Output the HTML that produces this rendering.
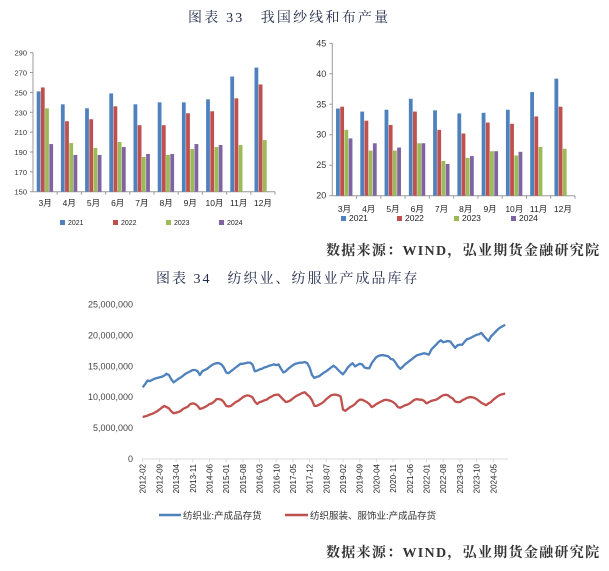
<!DOCTYPE html>
<html><head><meta charset="utf-8"><style>
body{margin:0;width:609px;height:571px;background:#fff;overflow:hidden;position:relative;font-family:"Liberation Sans","Noto Sans CJK SC",sans-serif}
.t{position:absolute;font-family:"Liberation Serif","Noto Serif CJK SC",serif;color:#1f2a4a;white-space:nowrap}
svg{position:absolute;left:0;top:0}
</style></head><body>
<div class="t" style="left:188px;top:7px;font-size:14px;letter-spacing:2.2px">图表 33　我国纱线和布产量</div>
<div class="t" style="left:326px;top:240px;font-size:14px;font-weight:bold;color:#333;letter-spacing:1.3px">数据来源：WIND，弘业期货金融研究院</div>
<div class="t" style="left:156px;top:268px;font-size:14px;letter-spacing:2px">图表 34　纺织业、纺服业产成品库存</div>
<div class="t" style="left:326px;top:542px;font-size:14px;font-weight:bold;color:#333;letter-spacing:1.3px">数据来源：WIND，弘业期货金融研究院</div>
<svg id="s" width="609" height="571"></svg>
<script>
const months=["3月","4月","5月","6月","7月","8月","9月","10月","11月","12月"];
const years=["2021","2022","2023","2024"];
const yarn2021=[251,238,234,249,238,240,240,243,266,275];
const yarn2022=[255,221,223,236,217,217,229,231,244,258];
const yarn2023=[234,199,194,200,185,187,193,195,197,202];
const yarn2024=[198,187,187,195,188,188,198,197,null,null];
const yarnTicks=[150,170,190,210,230,250,270,290];
const cloth2021=[34.3,33.8,34.1,35.9,34.0,33.5,33.6,34.1,37.0,39.2];
const cloth2022=[34.6,32.3,31.6,33.8,30.8,30.2,32.0,31.8,33.0,34.6];
const cloth2023=[30.8,27.4,27.4,28.6,25.7,26.2,27.3,26.6,28.0,27.7];
const cloth2024=[29.4,28.6,27.9,28.6,25.2,26.5,27.3,27.2,null,null];
const clothTicks=[20,25,30,35,40,45];
const invStart=[2012,2];
const textileInv=[11.6,12.1,12.7,12.6,12.8,13.0,13.1,13.2,13.3,13.5,13.8,13.6,12.9,12.4,12.7,13.0,13.2,13.5,13.8,14.0,14.2,14.4,14.4,14.2,13.6,14.2,14.4,14.6,14.9,15.2,15.4,15.5,15.5,15.3,14.8,14.0,13.9,14.2,14.5,14.8,15.1,15.4,15.4,15.5,15.6,15.6,15.3,14.2,14.3,14.5,14.6,14.8,14.9,15.1,15.2,15.3,15.2,15.3,14.6,14.0,14.2,14.6,14.9,15.2,15.4,15.5,15.6,15.6,15.7,15.5,14.8,13.6,13.1,13.3,13.4,13.7,14.0,14.2,14.5,14.8,15.1,14.8,14.4,14.0,13.7,14.2,14.8,15.2,15.5,15.0,15.2,15.4,15.3,14.8,14.7,14.7,15.5,16.0,16.5,16.7,16.8,16.8,16.7,16.6,16.2,16.1,15.6,15.0,14.6,14.9,15.3,15.6,15.9,16.2,16.5,16.8,16.9,17.0,17.1,17.0,16.9,17.7,18.1,18.5,18.9,19.2,18.9,19.0,19.1,19.0,18.5,18.0,18.4,18.5,18.5,19.0,19.4,19.5,19.7,19.9,20.1,20.2,20.4,19.9,19.5,19.1,19.8,20.2,20.6,21.0,21.3,21.5,21.7];
const apparelInv=[6.8,6.9,7.0,7.2,7.3,7.5,7.7,8.0,8.3,8.6,8.4,8.2,7.7,7.4,7.5,7.6,7.8,8.1,8.3,8.5,8.9,9.0,8.9,8.6,8.1,8.2,8.4,8.6,8.9,9.0,9.3,9.7,9.7,9.6,9.2,8.6,8.5,8.6,8.9,9.2,9.4,9.7,10.0,10.2,10.3,10.2,10.0,9.3,8.9,9.2,9.3,9.5,9.6,9.9,10.1,10.3,10.4,10.4,10.0,9.6,9.2,9.3,9.5,9.8,10.1,10.3,10.5,10.7,10.8,10.4,10.1,9.5,8.6,8.6,8.8,9.0,9.3,9.7,10.0,10.3,10.4,10.4,10.3,10.1,8.0,7.8,8.1,8.4,8.6,8.9,9.3,9.6,9.6,9.4,9.2,8.9,8.4,8.6,8.9,9.1,9.3,9.5,9.6,9.5,9.4,9.2,8.9,8.4,8.3,8.5,8.7,8.8,9.0,9.3,9.6,9.7,9.6,9.6,9.4,9.0,9.2,9.4,9.5,9.6,9.8,10.1,10.3,10.4,10.3,10.0,9.8,9.3,9.2,9.2,9.5,9.7,9.9,10.0,10.0,9.9,9.7,9.4,9.1,8.9,8.7,9.0,9.2,9.6,9.9,10.2,10.4,10.5,10.6];
const invTicks=[0,5,10,15,20,25];
const invTickLabels=["0","5,000,000","10,000,000","15,000,000","20,000,000","25,000,000"];

const NS="http://www.w3.org/2000/svg",S=document.getElementById('s');
function mk(tag,a,txt,p){const e=document.createElementNS(NS,tag);for(const k in a)e.setAttribute(k,a[k]);if(txt!=null)e.textContent=txt;(p||S).appendChild(e);return e;}
const COL=["#4F81BD","#C0504D","#9BBB59","#8064A2"];

function barChart(o){
  const g=mk('g',{});
  
  
  const y=v=>o.y0-(v-o.min)/(o.max-o.min)*(o.y0-o.y1);
  mk('line',{x1:o.x0,x2:o.x0,y1:o.y1,y2:o.y0,stroke:'#999','stroke-width':1},null,g);
  mk('line',{x1:o.x0,x2:o.x2,y1:o.y0,y2:o.y0,stroke:'#999','stroke-width':1},null,g);
  o.ticks.forEach(t=>{const ty=y(t);
    mk('line',{x1:o.x0-3,x2:o.x0,y1:ty,y2:ty,stroke:'#999'},null,g);
    const tl=mk('text',{x:o.x0-6,y:ty+3,'text-anchor':'end','font-size':o.fs,fill:'#333'},t,g);
    });
  const cw=(o.x2-o.x0)/months.length,bw=4.2;
  months.forEach((m,i)=>{const cx=o.x0+cw*(i+0.5);
    mk('line',{x1:o.x0+cw*(i+1),x2:o.x0+cw*(i+1),y1:o.y0,y2:o.y0+3,stroke:'#999'},null,g);
    o.series.forEach((s,j)=>{const v=s[i];if(v==null)return;
      const r=mk('rect',{x:cx-2*bw+j*bw,y:y(v),width:bw-0.4,height:o.y0-y(v),fill:COL[j]},null,g);
      });
    const xl=mk('text',{x:cx,y:o.ly,'text-anchor':'middle','font-size':8.5,fill:'#222'},m,g);
    });
  years.forEach((yr,j)=>{const lx=o.legx[j];
    const le=mk('g',{},null,g);
    mk('rect',{x:lx,y:o.legy-5,width:5,height:5,fill:COL[j]},null,le);
    mk('text',{x:lx+8,y:o.legy,'font-size':o.lfs,fill:'#222'},yr,le);});
}
barChart({name:'yarn-output-chart',x0:33,x2:275,y0:191.7,y1:52.7,min:150,max:290,ticks:yarnTicks,fs:7.5,
  series:[yarn2021,yarn2022,yarn2023,yarn2024],ly:206,legx:[60,113,166,219],legy:225,lfs:7});
barChart({name:'cloth-output-chart',x0:332.3,x2:575,y0:195.7,y1:43.3,min:20,max:45,ticks:clothTicks,fs:9,
  series:[cloth2021,cloth2022,cloth2023,cloth2024],ly:212,legx:[341,397,454,511],legy:221,lfs:8.5});

(function(){
  const g=mk('g',{});
  const x0=142.7,pm=2.385,yb=459,ppm=30.9;
  const X=i=>x0+i*pm, Y=v=>yb-v*ppm/5;
  mk('line',{x1:142,x2:508,y1:yb,y2:yb,stroke:'#d9d9d9'},null,g);
  invTicks.forEach((t,k)=>{const tl=mk('text',{x:133,y:Y(t)+3,'text-anchor':'end','font-size':9,fill:'#444'},invTickLabels[k],g);
    });
  for(let i=0;i<textileInv.length;i+=7){
    let mo=invStart[1]-1+i, yr=invStart[0]+Math.floor(mo/12); mo=mo%12+1;
    const lab=yr+'-'+(mo<10?'0':'')+mo, lx=X(i);
    mk('line',{x1:lx,x2:lx,y1:yb,y2:yb+3,stroke:'#d9d9d9'},null,g);
    const tl=mk('text',{x:0,y:0,'font-size':8,fill:'#222','text-anchor':'end',transform:`translate(${lx+3},${yb+5}) rotate(-90)`},lab,g);
    
  }
  [[textileInv,COL[0],'textile-inventory-line'],[apparelInv,COL[1],'apparel-inventory-line']].forEach(([d,c,n])=>{
    const p=mk('path',{d:d.map((v,i)=>(i?'L':'M')+X(i).toFixed(1)+','+Y(v).toFixed(1)).join(''),fill:'none',stroke:c,'stroke-width':2.3,'stroke-linejoin':'round'},null,g);
    });
  const l1=mk('g',{},null,g);
  mk('line',{x1:159,x2:181,y1:515,y2:515,stroke:COL[0],'stroke-width':2.5},null,l1);
  mk('text',{x:183,y:519,'font-size':9.5,fill:'#333'},'纺织业:产成品存货',l1);
  const l2=mk('g',{},null,g);
  mk('line',{x1:285,x2:308,y1:515,y2:515,stroke:COL[1],'stroke-width':2.5},null,l2);
  mk('text',{x:310,y:519,'font-size':9.5,fill:'#333'},'纺织服装、服饰业:产成品存货',l2);
})();
</script>
</body></html>
